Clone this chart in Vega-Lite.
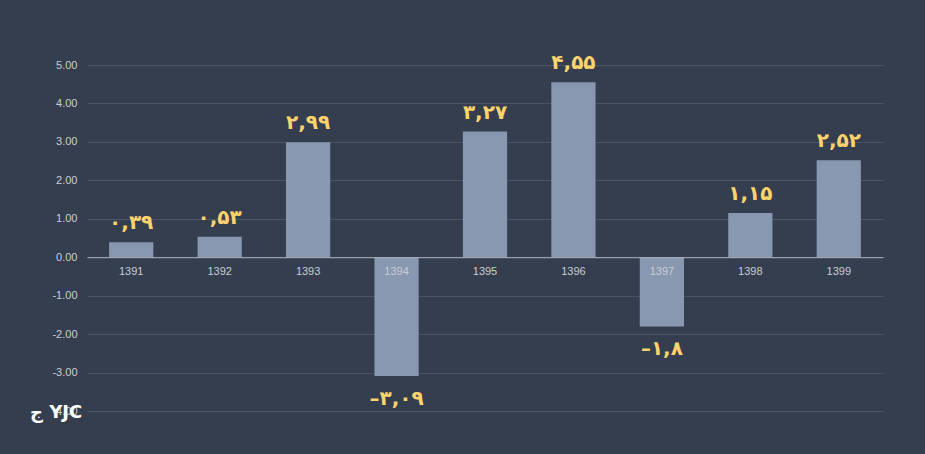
{
  "$schema": "https://vega.github.io/schema/vega-lite/v6.json",
  "autosize": {"type": "none"},
  "width": 796,
  "height": 346,
  "padding": {"left": 87, "top": 65, "right": 42, "bottom": 43},
  "background": "#353e4f",
  "config": {
    "view": {"stroke": null},
    "axis": {"labelFont": "Liberation Sans", "labelFontSize": 11, "labelColor": "#c8cdd6"}
  },
  "title": {
    "text": "ج YJC",
    "orient": "bottom",
    "anchor": "start",
    "frame": "group",
    "dx": -57,
    "offset": -12,
    "font": "DejaVu Sans",
    "fontSize": 18,
    "fontWeight": "bold",
    "color": "#ffffff"
  },
  "data": {
    "values": [
      {"year": "1391", "value": 0.39, "label": "۰,۳۹"},
      {"year": "1392", "value": 0.53, "label": "۰,۵۳"},
      {"year": "1393", "value": 2.99, "label": "۲,۹۹"},
      {"year": "1394", "value": -3.09, "label": "–۳,۰۹"},
      {"year": "1395", "value": 3.27, "label": "۳,۲۷"},
      {"year": "1396", "value": 4.55, "label": "۴,۵۵"},
      {"year": "1397", "value": -1.8, "label": "–۱,۸"},
      {"year": "1398", "value": 1.15, "label": "۱,۱۵"},
      {"year": "1399", "value": 2.52, "label": "۲,۵۲"}
    ]
  },
  "encoding": {
    "x": {
      "field": "year",
      "type": "nominal",
      "sort": null,
      "scale": {"paddingInner": 0.5, "paddingOuter": 0.25},
      "axis": {
        "title": null,
        "labelAngle": 0,
        "ticks": false,
        "domain": true,
        "domainColor": "#aeb4bf",
        "domainWidth": 1,
        "offset": -153.8,
        "labelPadding": 8,
        "zindex": 1
      }
    },
    "y": {
      "field": "value",
      "type": "quantitative",
      "scale": {"domain": [-4, 5], "nice": false},
      "axis": {
        "title": null,
        "values": [-4, -3, -2, -1, 0, 1, 2, 3, 4, 5],
        "format": ".2f",
        "labelExpr": "replace(datum.label, '−', '-')",
        "ticks": false,
        "domain": false,
        "grid": true,
        "gridColor": "#4b5466",
        "labelPadding": 10
      }
    }
  },
  "layer": [
    {"mark": {"type": "bar", "color": "#8798b0"}},
    {
      "transform": [{"filter": "datum.value >= 0"}],
      "mark": {"type": "text", "baseline": "alphabetic", "dy": -13, "font": "DejaVu Sans", "fontSize": 20, "fontWeight": "bold", "color": "#fcd36c"},
      "encoding": {"text": {"field": "label"}}
    },
    {
      "transform": [{"filter": "datum.value < 0"}],
      "mark": {"type": "text", "baseline": "alphabetic", "dy": 29, "font": "DejaVu Sans", "fontSize": 20, "fontWeight": "bold", "color": "#fcd36c"},
      "encoding": {"text": {"field": "label"}}
    }
  ]
}
